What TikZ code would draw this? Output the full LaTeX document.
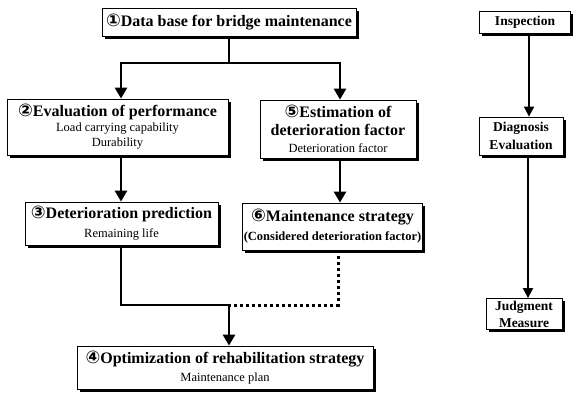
\documentclass[tikz,border=0pt]{standalone}
\usepackage{fontspec}
\setmainfont{Liberation Serif}
\newfontfamily\circfont{DejaVu Sans}
\usetikzlibrary{arrows.meta,shadows,calc}
\newcommand{\cn}[1]{{\fontsize{17.5}{18}\selectfont\circfont #1}}
\newcommand{\bigf}{\fontsize{16}{18}\selectfont\bfseries}
\newcommand{\smallf}{\fontsize{12.5}{15}\selectfont\mdseries}
\newcommand{\smallbf}{\fontsize{12.5}{15}\selectfont\bfseries}
\newcommand{\rightf}{\fontsize{13.5}{17}\selectfont\bfseries}
\tikzset{
  box/.style={draw=black, line width=0.8pt, fill=white, align=center, inner sep=1pt,
    drop shadow={shadow xshift=2.5pt, shadow yshift=-2.5pt, fill=black, opacity=1}},
  lsk/.style={font={\fontsize{12}{#1}\selectfont}},
  conn/.style={line width=2.6pt},
  arr/.style={line width=2.6pt, -{Triangle[length=11pt,width=12pt]}},
  thinarr/.style={line width=1.8pt, -{Triangle[length=10pt,width=10pt]}},
  dotconn/.style={line width=3pt, dash pattern=on 3pt off 3pt},
}
\begin{document}
\begin{tikzpicture}[x=1pt,y=-1pt]
\useasboundingbox (0,0) rectangle (576,394);
\node[box, minimum width=254pt, minimum height=28pt, font=\bigf] (b1) at (229,22)
  {\cn{①}Data base for bridge maintenance};
\node[box, minimum width=221pt, minimum height=56pt, lsk=15pt] (b2) at (117.5,127)
  {\bigf\cn{②}Evaluation of performance\\ \smallf Load carrying capability\\ \smallf Durability};
\node[box, minimum width=156pt, minimum height=58pt, lsk=17.5pt] (b5) at (338,129)
  {\bigf\cn{⑤}Estimation of\\ \bigf deterioration factor\\ \smallf Deterioration factor};
\node[box, minimum width=193pt, minimum height=43pt, lsk=19pt] (b3) at (121.5,223.5)
  {\bigf\cn{③}Deterioration prediction\\ \smallf Remaining life};
\node[box, minimum width=179pt, minimum height=47pt, lsk=19pt] (b6) at (332.5,226.5)
  {\bigf\cn{⑥}Maintenance strategy\\ \smallbf (Considered deterioration factor)};
\node[box, minimum width=296pt, minimum height=43pt, lsk=18pt] (b4) at (225,367.5)
  {\bigf\cn{④}Optimization of rehabilitation strategy\\ \smallf Maintenance plan};
\node[box, minimum width=91pt, minimum height=22pt, font=\rightf] (ins) at (525,22)
  {Inspection};
\node[box, minimum width=84pt, minimum height=38pt, lsk=18pt] (dia) at (521,136)
  {\rightf Diagnosis\\ \rightf Evaluation};
\node[box, minimum width=76pt, minimum height=31pt, lsk=17pt] (jud) at (524,314)
  {\rightf Judgment\\ \rightf Measure};
% connectors
\coordinate (j1) at (229,63);
\coordinate (cl) at (121,63);
\coordinate (cr) at (340,63);
\coordinate (m) at (229,305);
\coordinate (dx) at (338,0);
\coordinate (r1) at (529,0);
\coordinate (r2) at (528,0);
\draw[conn] (b1.south) -- (j1);
\draw[conn] ([xshift=-1.3pt]cl) -- ([xshift=1.3pt]cr);
\draw[arr] (cl) -- (cl |- b2.north);
\draw[arr] (cr) -- (cr |- b5.north);
\draw[arr] (b2.south -| cl) -- (b3.north -| cl);
\draw[arr] (b5.south -| cr) -- (b6.north -| cr);
\draw[conn] (b3.south -| cl) |- (m);
\draw[dotconn] (b6.south -| dx) |- (m);
\draw[arr] ([yshift=-1.3pt]m) -- (b4.north -| m);
\draw[thinarr] (ins.south -| r1) -- (dia.north -| r1);
\draw[thinarr] (dia.south -| r2) -- (jud.north -| r2);
\end{tikzpicture}
\end{document}
